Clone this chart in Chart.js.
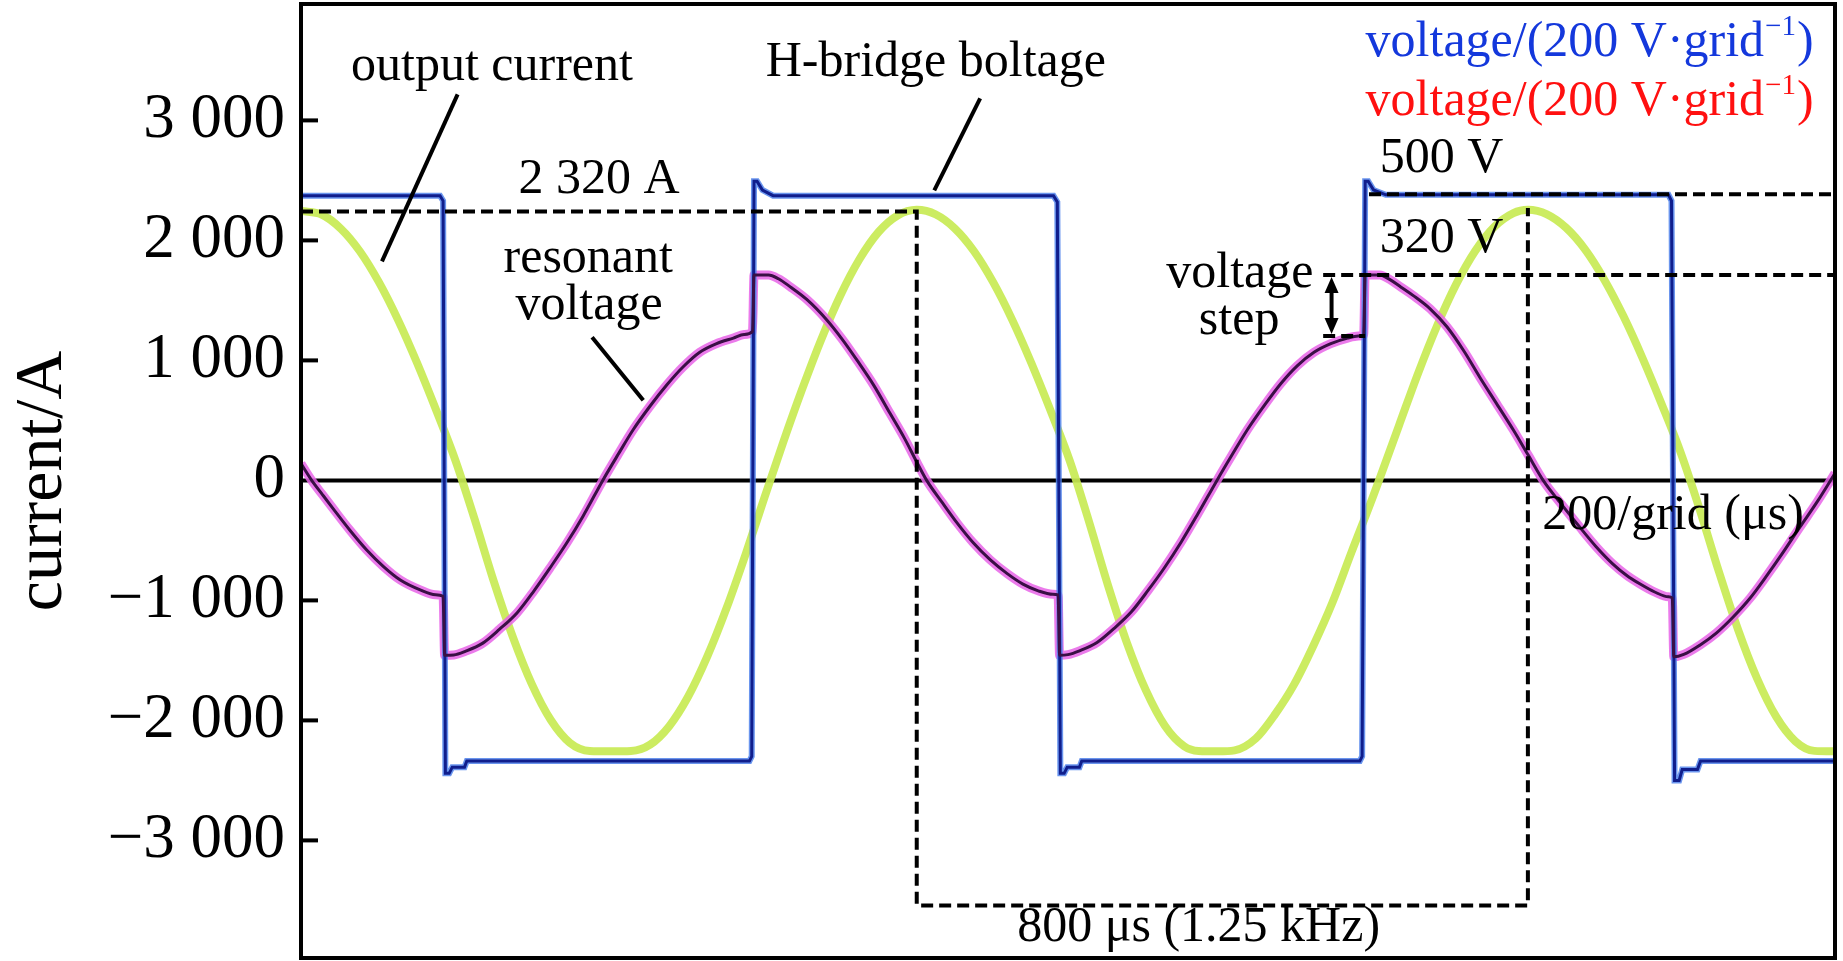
<!DOCTYPE html>
<html><head><meta charset="utf-8">
<script src="https://cdn.jsdelivr.net/npm/chart.js@4.4.1/dist/chart.umd.min.js"></script>
<style>html,body{margin:0;padding:0;background:#fff}#wrap{width:1843px;height:961px;position:relative}</style>
</head><body><div id="wrap"><canvas id="c"></canvas></div>
<script>
// ---- axis settings ----
const yTickValues = [-3000, -2000, -1000, 0, 1000, 2000, 3000];
const yTickLabels = ['\u22123 000', '\u22122 000', '\u22121 000', '0', '1 000', '2 000', '3 000'];
const timeMinUs = 0, timeMaxUs = 2008;
const currentMin = -3980, currentMax = 3970;

// ---- H-bridge voltage (plotted on current scale, us / A-equivalent) ----
const bridgeT = [0,182,186,189,194,198,214,217,587,590,593,597,604,618,985,990,994,999,1003,1019,1022,1386,1389,1393,1397,1404,1420,1790,1794,1798,1804,1808,1828,1832,2008];
const bridgeV = [2373,2373,2330,-2441,-2441,-2390,-2390,-2339,-2339,-2300,2492,2492,2420,2373,2373,2320,-2441,-2441,-2390,-2390,-2339,-2339,-2300,2492,2492,2420,2380,2380,2330,-2500,-2500,-2410,-2410,-2339,-2339];

// ---- output current ----
const currentT = [0,27,52,77,102,127,152,177,202,227,252,277,302,327,352,378,405,432,457,482,507,532,557,582,607,631,656,681,706,731,756,781,806,831,856,881,906,931,956,981,1006,1031,1056,1081,1106,1131,1156,1175,1200,1222,1250,1275,1300,1325,1350,1375,1400,1437,1462,1487,1512,1537,1562,1587,1606,1631,1656,1681,1706,1731,1756,1781,1806,1831,1856,1881,1906,1931,1956,1981,2008];
const currentA = [2245,2216,2099,1910,1652,1338,978,584,169,-318,-834,-1300,-1696,-1997,-2187,-2255,-2258,-2255,-2202,-2048,-1799,-1465,-1065,-615,-137,314,760,1175,1541,1843,2070,2208,2255,2216,2099,1910,1652,1338,978,584,169,-333,-867,-1351,-1750,-2046,-2215,-2255,-2258,-2250,-2150,-1950,-1700,-1380,-1020,-600,-190,453,888,1287,1633,1912,2113,2228,2255,2217,2105,1923,1673,1369,1020,637,232,-244,-760,-1241,-1651,-1969,-2173,-2254,-2258];

// ---- resonant voltage ----
const resonantT = [0,14,28,42,64,86,108,130,156,176,186,188,200,215,238,260,283,305,326,348,369,395,415,435,457,479,500,522,544,566,580,591,593,612,625,640,662,688,708,728,750,771,790,806,819,840,859,880,902,924,945,965,984,991,993,1004,1019,1042,1064,1087,1109,1130,1152,1173,1199,1219,1239,1261,1283,1304,1326,1348,1370,1384,1391,1393,1412,1425,1440,1456,1478,1500,1522,1543,1565,1587,1606,1626,1650,1674,1695,1717,1735,1753,1772,1790,1795,1797,1810,1831,1853,1875,1897,1918,1940,1962,1985,2008];
const resonantV = [140,0,-118,-235,-415,-580,-718,-830,-912,-952,-966,-1458,-1455,-1425,-1356,-1240,-1102,-920,-729,-520,-300,0,215,424,620,797,945,1068,1140,1186,1215,1240,1712,1712,1680,1615,1508,1339,1180,1000,790,559,350,153,0,-190,-356,-520,-661,-775,-864,-920,-949,-955,-1458,-1452,-1420,-1350,-1235,-1095,-915,-730,-515,-290,0,215,424,625,810,955,1068,1140,1186,1203,1210,1712,1712,1675,1610,1540,1430,1280,1080,860,640,420,215,0,-200,-390,-550,-695,-790,-864,-930,-970,-980,-1470,-1450,-1373,-1270,-1136,-980,-800,-600,-390,-175,60];

const zip = (ts, vs) => ts.map((t, i) => ({x: t, y: vs[i]}));
const FONT = '"Liberation Serif","Times New Roman",serif';
const TXT = 50;

const annot = {
  id: 'annot',
  beforeDatasetsDraw(chart) {
    const {ctx, chartArea: a, scales: {y}} = chart;
    ctx.save();
    ctx.strokeStyle = '#000'; ctx.lineWidth = 4;
    const y0 = y.getPixelForValue(0);
    ctx.beginPath(); ctx.moveTo(a.left, y0); ctx.lineTo(a.right, y0); ctx.stroke();
    ctx.restore();
  },
  afterDatasetsDraw(chart) {
    const {ctx, chartArea: a, scales: {x, y}} = chart;
    const X = v => x.getPixelForValue(v), Y = v => y.getPixelForValue(v);
    ctx.save();
    // dashed helper lines
    ctx.strokeStyle = '#000'; ctx.lineWidth = 4; ctx.setLineDash([12, 6]);
    const dl = (pts) => { ctx.beginPath(); pts.forEach((p, i) => i ? ctx.lineTo(X(p[0]), Y(p[1])) : ctx.moveTo(X(p[0]), Y(p[1]))); ctx.stroke(); };
    dl([[timeMinUs, 2240], [806, 2240], [806, -3542], [1606, -3542], [1606, 2270]]);
    dl([[1398, 2385], [timeMaxUs, 2385]]);
    dl([[1338, 1712], [timeMaxUs, 1712]]);
    dl([[1338, 1203], [1393, 1203]]);
    ctx.setLineDash([]);
    // leader lines
    ctx.lineWidth = 4;
    const ln = (a0, a1) => { ctx.beginPath(); ctx.moveTo(X(a0[0]), Y(a0[1])); ctx.lineTo(X(a1[0]), Y(a1[1])); ctx.stroke(); };
    ln([205, 3217], [106, 1825]);
    ln([889, 3183], [829, 2417]);
    ln([381, 1192], [448, 667]);
    // double arrow (voltage step)
    const ax = X(1349), ay1 = Y(1712), ay2 = Y(1203);
    ctx.lineWidth = 4;
    ctx.beginPath(); ctx.moveTo(ax, ay1 + 10); ctx.lineTo(ax, ay2 - 10); ctx.stroke();
    ctx.fillStyle = '#000';
    ctx.beginPath(); ctx.moveTo(ax, ay1 + 2); ctx.lineTo(ax - 7, ay1 + 18); ctx.lineTo(ax + 7, ay1 + 18); ctx.closePath(); ctx.fill();
    ctx.beginPath(); ctx.moveTo(ax, ay2 - 2); ctx.lineTo(ax - 7, ay2 - 18); ctx.lineTo(ax + 7, ay2 - 18); ctx.closePath(); ctx.fill();
    // texts
    ctx.textBaseline = 'alphabetic';
    const tx = (s, t, v, align, color, size) => {
      ctx.font = size + 'px ' + FONT; ctx.fillStyle = color || '#000'; ctx.textAlign = align || 'center';
      ctx.fillText(s, X(t), Y(v));
    };
    tx('output current', 250, 3333, 'center', '#000', TXT);
    tx('H-bridge boltage', 831, 3367, 'center', '#000', TXT);
    tx('2 320 A', 390, 2392, 'center', '#000', TXT);
    tx('resonant', 376, 1733, 'center', '#000', TXT);
    tx('voltage', 377, 1342, 'center', '#000', TXT);
    tx('voltage', 1229, 1608, 'center', '#000', TXT);
    tx('step', 1228, 1217, 'center', '#000', TXT);
    tx('500 V', 1412, 2567, 'left', '#000', TXT);
    tx('320 V', 1412, 1900, 'left', '#000', TXT);
    tx('200/grid (\u03bcs)', 1796, -408, 'center', '#000', TXT);
    tx('800 \u03bcs (1.25 kHz)', 1175, -3842, 'center', '#000', TXT);
    // unit labels with superscript
    const unit = (color, v) => {
      const right = X(1980), base = Y(v);
      ctx.fillStyle = color; ctx.textAlign = 'left';
      ctx.font = TXT + 'px ' + FONT; const wParen = ctx.measureText(')').width;
      ctx.font = '29px ' + FONT; const wSup = ctx.measureText('\u22121').width;
      ctx.font = TXT + 'px ' + FONT; const main = 'voltage/(200 V\u00b7grid'; const wMain = ctx.measureText(main).width;
      const x0 = right - wParen - wSup - 2 - wMain;
      ctx.fillText(main, x0, base);
      ctx.font = '29px ' + FONT; ctx.fillText('\u22121', x0 + wMain + 1, base - 21);
      ctx.font = TXT + 'px ' + FONT; ctx.fillText(')', x0 + wMain + wSup + 2, base);
    };
    unit('#1438dc', 3533);
    unit('#ff1010', 3042);
    // inward tick marks
    ctx.strokeStyle = '#000'; ctx.lineWidth = 4;
    yTickValues.forEach(v => { if (v !== 0) { ctx.beginPath(); ctx.moveTo(a.left, Y(v)); ctx.lineTo(a.left + 17, Y(v)); ctx.stroke(); } });
    // frame
    ctx.lineWidth = 4; ctx.strokeRect(a.left, a.top, a.right - a.left, a.bottom - a.top);
    ctx.restore();
  }
};

const resData = zip(resonantT, resonantV);
const bridgeData = zip(bridgeT, bridgeV);

new Chart(document.getElementById('c'), {
  type: 'line',
  data: {
    datasets: [
      {label: 'output current', data: zip(currentT, currentA), borderColor: 'rgba(200,234,84,0.92)', borderWidth: 8, pointRadius: 0, cubicInterpolationMode: 'monotone', order: 6},
      {label: 'resonant halo', data: resData, borderColor: 'rgba(232,100,232,0.85)', borderWidth: 9, pointRadius: 0, cubicInterpolationMode: 'monotone', order: 5},
      {label: 'bridge halo', data: bridgeData, borderColor: 'rgba(80,130,235,0.85)', borderWidth: 6, pointRadius: 0, tension: 0, order: 4},
      {label: 'H-bridge voltage', data: bridgeData, borderColor: '#101e8c', borderWidth: 3, pointRadius: 0, tension: 0, order: 3},
      {label: 'resonant voltage', data: resData, borderColor: '#3a0f45', borderWidth: 3, pointRadius: 0, cubicInterpolationMode: 'monotone', order: 2}
    ]
  },
  options: {
    responsive: true, maintainAspectRatio: false, animation: false,
    layout: {padding: {top: 4, bottom: 3, right: 8, left: 0}},
    plugins: {legend: {display: false}, tooltip: {enabled: false}},
    scales: {
      x: {type: 'linear', min: timeMinUs, max: timeMaxUs, display: false},
      y: {
        type: 'linear', min: currentMin, max: currentMax, position: 'left',
        grid: {display: false, drawTicks: false}, border: {display: false},
        afterBuildTicks: s => { s.ticks = yTickValues.map(v => ({value: v})); },
        afterFit: s => { s.width = 301; s.paddingTop = 0; s.paddingBottom = 0; },
        ticks: {
          padding: 16, color: '#000', font: {family: FONT, size: 63},
          callback: (v) => yTickLabels[yTickValues.indexOf(v)]
        },
        title: {display: true, text: 'current/A', color: '#000', font: {family: FONT, size: 68}, padding: {top: 2, bottom: 0}}
      }
    }
  },
  plugins: [annot]
});
</script></body></html>
